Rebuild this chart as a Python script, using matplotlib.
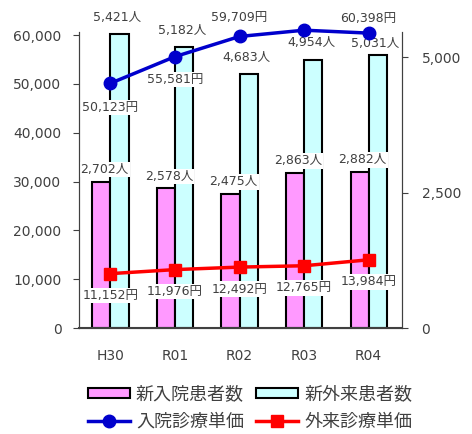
import matplotlib.pyplot as plt
from matplotlib.ticker import FuncFormatter
import numpy as np

plt.rcParams['font.family'] = ['DejaVu Sans', 'Noto Sans CJK JP']

# データ
years = ["H30", "R01", "R02", "R03", "R04"]
inpatients_new = [2702, 2578, 2475, 2863, 2882]        # 新入院患者数
outpatients_new = [5421, 5182, 4683, 4954, 5031]       # 新外来患者数
inpatient_price = [50123, 55581, 59709, 60994, 60398]  # 入院診療単価
outpatient_price = [11152, 11976, 12492, 12765, 13984] # 外来診療単価

pink = '#FF99FF'
cyan = '#CCFFFF'
blue = '#0000CC'
red = '#FF0000'
grey = '#404040'

x = np.arange(len(years))
w = 0.28

fig = plt.figure(figsize=(4.72, 4.34), dpi=100)
ax = fig.add_axes([0.167, 0.244, 0.685, 0.682])
ax2 = ax.twinx()

# 棒グラフ（右軸）
b1 = ax2.bar(x - w / 2, inpatients_new, w, color=pink, edgecolor='black',
             linewidth=1.5, label='新入院患者数')
b2 = ax2.bar(x + w / 2, outpatients_new, w, color=cyan, edgecolor='black',
             linewidth=1.5, label='新外来患者数')

# 折れ線（左軸）
l1, = ax.plot(x, inpatient_price, color=blue, lw=2.5, marker='o', ms=9,
              label='入院診療単価', clip_on=False, zorder=5)
l2, = ax.plot(x, outpatient_price, color=red, lw=2.5, marker='s', ms=8,
              label='外来診療単価', clip_on=False, zorder=5)

ax.set_zorder(ax2.get_zorder() + 1)
ax.patch.set_visible(False)

ax.set_xlim(-0.49, 4.52)
ax.set_ylim(0, 60600)
ax2.set_ylim(0, 5460)
ax.set_yticks(range(0, 60001, 10000))
ax2.set_yticks([0, 2500, 5000])
fmt = FuncFormatter(lambda v, p: f"{int(v):,}")
ax.yaxis.set_major_formatter(fmt)
ax2.yaxis.set_major_formatter(fmt)
ax.set_xticks(x)
ax.set_xticklabels(years)

for a in (ax, ax2):
    a.spines['top'].set_visible(False)
    a.tick_params(axis='y', labelsize=10, length=4, colors=grey, labelcolor=grey)
    a.tick_params(axis='x', length=0, labelsize=10, pad=15, labelcolor=grey)
    for s in ('left', 'right', 'bottom'):
        a.spines[s].set_color(grey)
ax.tick_params(axis='y', pad=8.5)
ax2.tick_params(axis='y', pad=10)
ax2.spines['bottom'].set_linewidth(1.5)

box = dict(boxstyle='square,pad=0.1', fc='white', ec='none')
lab = dict(ha='center', va='center', fontsize=9, color=grey,
           textcoords='offset pixels', bbox=box, zorder=6)

for i, v in enumerate(outpatients_new):
    dy = 12 if i == 4 else 17
    ax2.annotate(f"{v:,}人", (x[i] + w / 2, v), xytext=(-2, dy), **lab)
for i, v in enumerate(inpatients_new):
    ax2.annotate(f"{v:,}人", (x[i] - w / 2, v), xytext=(3, 12), **lab)

blue_dy = [-24, -23, 19, 14, 15]
for i, v in enumerate(inpatient_price):
    ax.annotate(f"{v:,}円", (x[i], v), xytext=(0, blue_dy[i]), **lab)
for i, v in enumerate(outpatient_price):
    ax.annotate(f"{v:,}円", (x[i], v), xytext=(0, -22), **lab)

fig.legend([b1, l1, b2, l2], ['新入院患者数', '入院診療単価', '新外来患者数', '外来診療単価'],
           loc='center', bbox_to_anchor=(0.53, 0.06), ncol=2, frameon=False,
           fontsize=13, handlelength=2.3, handleheight=0.55, columnspacing=0.7,
           handletextpad=0.35, labelspacing=0.5, labelcolor=grey,
           borderaxespad=0, borderpad=0)

plt.savefig("out.png", dpi=100)
